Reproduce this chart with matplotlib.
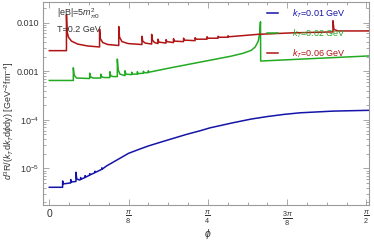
import numpy as np
import matplotlib
matplotlib.use("Agg")
import matplotlib.pyplot as plt
from matplotlib.ticker import FixedLocator, LogLocator, NullFormatter

plt.rcParams.update({
    "font.family": "Liberation Sans",
    "mathtext.fontset": "custom",
    "mathtext.rm": "Liberation Sans",
    "mathtext.it": "Liberation Sans:italic",
    "mathtext.bf": "Liberation Sans:bold",
})

# ── data (phi in rad, log10 of rate) ─────────────────────────────────────────
blue_phi = [0.0, 0.066, 0.066, 0.07, 0.106, 0.106, 0.11, 0.132, 0.132, 0.136,
            0.15, 0.155, 0.155, 0.159, 0.177, 0.177, 0.181, 0.2, 0.2, 0.204,
            0.226, 0.226, 0.23, 0.26, 0.26, 0.264, 0.284, 0.33, 0.393, 0.45,
            0.49, 0.532, 0.58, 0.62, 0.68, 0.747, 0.796, 0.911, 1.0, 1.077,
            1.16, 1.242, 1.407, 1.583]
blue_log = [-5.39, -5.39, -5.26, -5.32, -5.30, -5.23, -5.28, -5.27, -5.08, -5.22,
            -5.24, -5.23, -5.19, -5.22, -5.19, -5.15, -5.18, -5.14, -5.11, -5.13,
            -5.09, -5.06, -5.08, -5.02, -4.99, -5.01, -4.95, -4.84, -4.69, -4.60,
            -4.54, -4.486, -4.425, -4.375, -4.30, -4.226, -4.166, -4.06, -3.985, -3.935,
            -3.89, -3.856, -3.821, -3.805]

green_phi = [0.0, 0.119, 0.119, 0.123, 0.135, 0.2, 0.2, 0.204, 0.215, 0.255,
             0.255, 0.259, 0.27, 0.3, 0.3, 0.304, 0.315, 0.337, 0.337, 0.341,
             0.35, 0.375, 0.375, 0.379, 0.408, 0.408, 0.412, 0.436, 0.436, 0.44,
             0.466, 0.466, 0.47, 0.49, 0.49, 0.494, 0.6, 0.75, 0.9, 0.96,
             1.0, 1.02, 1.035, 1.042, 1.046, 1.047, 1.3, 1.583]
green_log = [-3.19, -3.19, -2.93, -3.08, -3.14, -3.15, -3.04, -3.11, -3.14, -3.14,
             -3.06, -3.11, -3.13, -3.13, -3.01, -3.09, -3.11, -3.11, -2.75, -2.97,
             -3.06, -3.09, -2.99, -3.06, -3.07, -3.02, -3.06, -3.06, -3.01, -3.05,
             -3.04, -3.00, -3.03, -3.03, -2.99, -3.02, -2.93, -2.81, -2.69, -2.63,
             -2.57, -2.50, -2.38, -2.22, -1.98, -2.79, -2.74, -2.685]

red_phi = [0.0, 0.085, 0.085, 0.088, 0.095, 0.11, 0.14, 0.19, 0.249,
           0.249, 0.253, 0.265, 0.29, 0.344,
           0.344, 0.348, 0.36, 0.39, 0.459,
           0.459, 0.463, 0.475, 0.507,
           0.507, 0.511, 0.522, 0.538,
           0.538, 0.543, 0.578,
           0.578, 0.583, 0.615,
           0.615, 0.62, 0.665,
           0.665, 0.67, 0.722,
           0.722, 0.727, 0.781,
           0.781, 0.786, 0.836,
           0.836, 0.841, 0.885,
           0.885, 0.89, 1.034, 1.2, 1.405,
           1.405, 1.41, 1.43, 1.583]
red_log = [-2.576, -2.576, -1.84, -2.18, -2.30, -2.38, -2.44, -2.48, -2.50,
           -2.13, -2.33, -2.41, -2.45, -2.47,
           -2.08, -2.30, -2.39, -2.43, -2.45,
           -2.28, -2.38, -2.42, -2.44,
           -2.24, -2.36, -2.41, -2.43,
           -2.34, -2.40, -2.42,
           -2.35, -2.39, -2.41,
           -2.33, -2.38, -2.39,
           -2.32, -2.36, -2.37,
           -2.31, -2.34, -2.34,
           -2.29, -2.32, -2.32,
           -2.28, -2.30, -2.30,
           -2.27, -2.29, -2.24, -2.21, -2.19,
           -1.96, -2.14, -2.17, -2.17]

labels = [r"$k_T$=0.01 GeV", r"$k_T$=0.02 GeV", r"$k_T$=0.06 GeV"]
colors = ["#1414a8", "#22aa22", "#b01414"]

xticks = [0, np.pi / 8, np.pi / 4, 3 * np.pi / 8, np.pi / 2]
xtick_labels = ["0", r"$\frac{\pi}{8}$", r"$\frac{\pi}{4}$",
                r"$\frac{3\pi}{8}$", r"$\frac{\pi}{2}$"]
yticks = [1e-2, 1e-3, 1e-4, 1e-5]
ytick_labels = ["0.010", "0.001", r"$10^{-4}$", r"$10^{-5}$"]

# ── figure ───────────────────────────────────────────────────────────────────
W, H = 374, 242
fig = plt.figure(figsize=(W / 100, H / 100), dpi=100)
ax = fig.add_axes([43.3 / W, 1 - 205 / H, (369 - 43.3) / W, 203 / H])

for phi, lg, c, lab in zip([blue_phi, green_phi, red_phi],
                           [blue_log, green_log, red_log], colors, labels):
    ax.plot(phi, 10 ** np.array(lg), color=c, lw=1.1, label=lab)

ax.set_yscale("log")
ax.set_xlim(-0.0297, 1.5835)
ax.set_ylim(10 ** -5.755, 10 ** -1.574)

ax.set_xticks(xticks)
ax.set_xticklabels(xtick_labels)
ax.xaxis.set_minor_locator(FixedLocator(np.arange(0, 1.6, np.pi / 32)))
ax.set_yticks(yticks)
ax.set_yticklabels(ytick_labels)
ax.yaxis.set_minor_locator(LogLocator(base=10, subs=np.arange(2, 10)))
ax.yaxis.set_minor_formatter(NullFormatter())

frame = "#9a9a9a"
for s in ax.spines.values():
    s.set_color(frame)
    s.set_linewidth(0.8)
ax.tick_params(which="both", direction="in", top=True, right=True,
               color=frame, labelsize=6.5, labelcolor="#333333", width=0.6)
ax.tick_params(which="major", length=4, pad=3)
ax.tick_params(which="minor", length=2)
ax.tick_params(axis="x", which="major", labelsize=7.5, pad=3)

# annotations
fig.text(56.7 / W, 1 - 14 / H, r"|eB|=5$m_{\pi0}^{2}$", fontsize=6.5,
         color="#333333", va="center", ha="left")
fig.text(56.7 / W, 1 - 29.3 / H, "T=0.2 GeV", fontsize=6.5,
         color="#333333", va="center", ha="left")

fig.text(208 / W, 1 - 234 / H, r"$\phi$", fontsize=7.5, color="#333333",
         ha="center", va="center")
fig.text(9 / W, 0.5,
         r"$d^3$R/($k_T$d$k_T$d$\phi$dy) [GeV$^{-2}$fm$^{-4}$]",
         rotation=90, fontsize=6.5, color="#333333", ha="center", va="center")

ax.legend(loc="upper left", bbox_to_anchor=(266.7 / W, 1 - 7 / H),
          bbox_transform=fig.transFigure, frameon=False, fontsize=6.5,
          handlelength=1.25, handletextpad=1.5, labelspacing=0.85,
          borderpad=0, borderaxespad=0, labelcolor="linecolor")

fig.savefig("out.png", dpi=100)
